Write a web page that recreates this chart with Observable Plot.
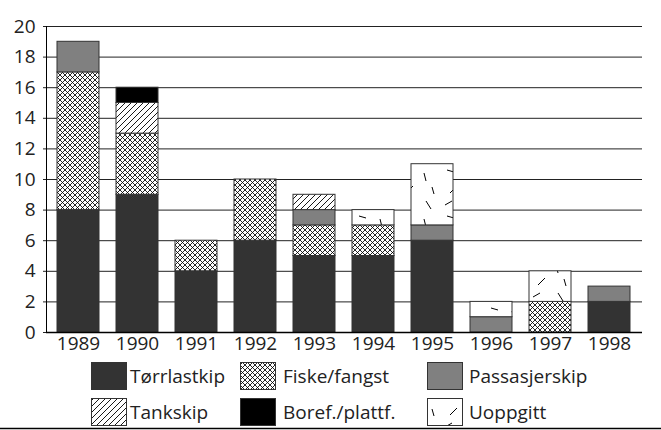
<!DOCTYPE html>
<html>
<head>
<meta charset="utf-8">
<script src="https://cdn.jsdelivr.net/npm/d3@7"></script>
<script src="https://cdn.jsdelivr.net/npm/@observablehq/plot@0.6"></script>
<style>
  html, body { margin: 0; padding: 0; background: #fff; }
  #chart svg { display: block; }
  body { font-family: "Open Sans", "Noto Sans", sans-serif; }
</style>
</head>
<body>
<svg width="0" height="0" style="position:absolute">
  <defs>
    <pattern id="p-cross" patternUnits="userSpaceOnUse" width="5" height="5">
      <rect width="5" height="5" fill="#fff"/>
      <path d="M-1,-1 L6,6 M-1,4 L1,6 M4,-1 L6,1 M-1,6 L6,-1 M-1,1 L1,-1 M4,6 L6,4" stroke="#000" stroke-width="0.85"/>
    </pattern>
    <pattern id="p-diag" patternUnits="userSpaceOnUse" width="6" height="6">
      <rect width="6" height="6" fill="#fff"/>
      <path d="M-1,7 L7,-1 M-1,1 L1,-1 M5,7 L7,5" stroke="#000" stroke-width="0.9"/>
    </pattern>
    <pattern id="p-dash" patternUnits="userSpaceOnUse" width="44" height="46">
      <rect width="44" height="46" fill="#fff"/>
      <path d="M10,9 L17,2 M5,21 L12,17 M30,17 L35,25 M7,32 L14,34 M28,35 L30,43 M36,3 L38,10" stroke="#000" stroke-width="1"/>
    </pattern>
  </defs>
</svg>
<div id="chart"></div>
<script>
const years = ["1989","1990","1991","1992","1993","1994","1995","1996","1997","1998"];
const types = ["Tørrlastkip","Fiske/fangst","Passasjerskip","Tankskip","Boref./plattf.","Uoppgitt"];
const torrlast  = [8, 9, 4, 6, 5, 5, 6, 0, 0, 2];
const fiske     = [9, 4, 2, 4, 2, 2, 0, 0, 2, 0];
const passasjer = [2, 0, 0, 0, 1, 0, 1, 1, 0, 1];
const tank      = [0, 2, 0, 0, 1, 0, 0, 0, 0, 0];
const boref     = [0, 1, 0, 0, 0, 0, 0, 0, 0, 0];
const uoppgitt  = [0, 0, 0, 0, 0, 1, 4, 1, 2, 0];
const yTicks = [0, 2, 4, 6, 8, 10, 12, 14, 16, 18, 20];

const fills = ["#333333", "url(#p-cross)", "#808080", "url(#p-diag)", "#000000", "url(#p-dash)"];
const series = [torrlast, fiske, passasjer, tank, boref, uoppgitt];

const data = [];
years.forEach((yr, i) => {
  types.forEach((t, k) => {
    const v = series[k][i];
    if (v > 0) data.push({year: yr, type: t, value: v});
  });
});

const FONT = "'Open Sans', 'Noto Sans', sans-serif";

const plot = Plot.plot({
  width: 661,
  height: 360,
  marginLeft: 46,
  marginRight: 19,
  marginTop: 26,
  marginBottom: 28,
  style: {fontFamily: FONT, fontSize: "19px", color: "#222", background: "#fff"},
  x: {domain: years, paddingInner: 0.28, paddingOuter: 0.14, label: null},
  y: {domain: [0, 20], label: null},
  color: {type: "ordinal", domain: types, range: fills},
  marks: [
    Plot.gridY(yTicks, {stroke: "#222", strokeOpacity: 1, strokeWidth: 1}),
    Plot.barY(data, Plot.stackY({order: types}, {x: "year", y: "value", fill: "type", stroke: "#333", strokeWidth: 1})),
    Plot.axisY(yTicks, {tickSize: 3, tickPadding: 8, fontSize: 19, label: null}),
    Plot.axisX({tickSize: 0, tickPadding: 4, fontSize: 19, label: null}),
    Plot.frame({anchor: "left", stroke: "#000", strokeWidth: 1}),
    Plot.ruleY([0], {stroke: "#000", strokeWidth: 1.5})
  ]
});
document.getElementById("chart").appendChild(plot);

// Legend
const legendCols = [[91, 130], [240, 283], [427, 469]];
const leg = d3.select("#chart").append("svg")
  .attr("width", 661).attr("height", 70)
  .style("display", "block")
  .style("font-family", FONT)
  .style("font-size", "19px");
types.forEach((t, k) => {
  const row = Math.floor(k / 3), col = k % 3;
  const [sx, tx] = legendCols[col];
  const sy = row === 0 ? 2 : 38;
  leg.append("rect")
    .attr("x", sx + 0.5).attr("y", sy + 0.5)
    .attr("width", 35).attr("height", 27)
    .attr("fill", fills[k]).attr("stroke", "#333").attr("stroke-width", 1);
  leg.append("text")
    .attr("x", tx).attr("y", sy + 14)
    .attr("dy", "0.35em")
    .attr("fill", "#222")
    .text(t);
});
leg.append("line").attr("x1", 0).attr("x2", 661).attr("y1", 68.5).attr("y2", 68.5)
  .attr("stroke", "#000").attr("stroke-width", 1.5);
</script>
</body>
</html>
